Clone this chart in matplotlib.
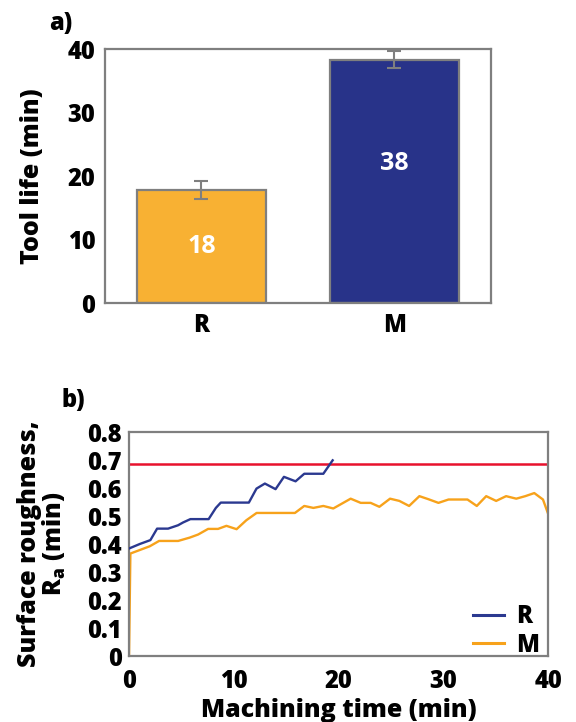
import matplotlib
matplotlib.use("Agg")
import matplotlib.pyplot as plt

plt.rcParams['font.family'] = ['Open Sans', 'DejaVu Sans']
plt.rcParams['font.weight'] = 'heavy'
W = 'heavy'

# Panel a data
tool_categories = ["R", "M"]
tool_life = [17.8, 38.3]
tool_err = [1.4, 1.35]
bar_colors = ["#F8B133", "#283389"]
bar_labels = ["18", "38"]

# Panel b data
r_time = [0, 1.02, 2.04, 2.68, 3.73, 4.68, 5.16, 5.86, 7.6, 8.29, 8.76, 11.44,
          12.17, 12.97, 13.99, 14.79, 15.9, 16.73, 18.55, 19.44]
r_ra = [0.384, 0.400, 0.414, 0.455, 0.455, 0.467, 0.477, 0.489, 0.489, 0.529,
        0.548, 0.548, 0.598, 0.616, 0.596, 0.640, 0.624, 0.651, 0.651, 0.699]
m_time = [0, 0.13, 1.98, 2.87, 4.69, 5.8, 6.6, 7.55, 8.5, 9.3, 10.27, 11.2,
          12.18, 15.84, 16.73, 17.6, 18.55, 19.5, 21.16, 22.12, 23.07, 23.9,
          24.92, 25.81, 26.74, 27.72, 28.59, 29.54, 30.5, 32.31, 33.2, 34.1,
          35.05, 36.0, 36.97, 37.83, 38.69, 39.52, 40.0]
m_ra = [0.0, 0.366, 0.392, 0.411, 0.411, 0.423, 0.434, 0.454, 0.454, 0.465,
        0.453, 0.485, 0.511, 0.511, 0.536, 0.529, 0.536, 0.527, 0.562, 0.547,
        0.547, 0.533, 0.562, 0.554, 0.536, 0.571, 0.560, 0.547, 0.559, 0.559,
        0.536, 0.571, 0.554, 0.571, 0.562, 0.571, 0.582, 0.559, 0.509]
ra_limit = 0.685

GRAY = "#7f7f7f"

fig = plt.figure(figsize=(5.76, 7.22), dpi=100)

# ---- panel a ----
ax1 = fig.add_axes([0.1823, 0.5803, 0.670, 0.3518])
x = range(len(tool_categories))
ax1.bar(x, tool_life, width=0.667, color=bar_colors, edgecolor=GRAY,
        linewidth=1.6, zorder=2)
ax1.errorbar(x, tool_life, yerr=tool_err, fmt='none', ecolor=GRAY,
             elinewidth=1.5, capsize=5, capthick=1.5, zorder=3)
label_pos = [tool_life[0] * 0.5, tool_life[1] * 0.575]
for xi, yi, lab in zip(x, label_pos, bar_labels):
    ax1.text(xi, yi, lab, color="white", ha="center", va="center",
             fontsize=18, fontweight="bold")
ax1.set_xlim(-0.5, 1.5)
ax1.set_ylim(0, 40)
ax1.set_yticks([0, 10, 20, 30, 40])
ax1.set_xticks(list(x))
ax1.set_xticklabels(tool_categories)
ax1.set_ylabel("Tool life (min)", fontsize=18, fontweight=W, labelpad=16)
ax1.tick_params(length=0, labelsize=17, pad=7)
for s in ax1.spines.values():
    s.set_color(GRAY)
    s.set_linewidth(1.6)
fig.text(0.085, 0.968, "a)", fontsize=17, fontweight=W, ha="left", va="center")

# ---- panel b ----
ax2 = fig.add_axes([0.224, 0.0914, 0.7274, 0.3102])
ax2.axhline(ra_limit, color="#E8112D", linewidth=1.8, zorder=1)
ax2.plot(r_time, r_ra, color="#2B3990", linewidth=1.7, label="R", zorder=3)
ax2.plot(m_time, m_ra, color="#F7A21B", linewidth=1.7, label="M", zorder=2)
ax2.set_xlim(0, 40)
ax2.set_ylim(0, 0.8)
ax2.set_xticks([0, 10, 20, 30, 40])
ax2.set_yticks([0, 0.1, 0.2, 0.3, 0.4, 0.5, 0.6, 0.7, 0.8])
ax2.set_yticklabels(["0", "0.1", "0.2", "0.3", "0.4", "0.5", "0.6", "0.7", "0.8"])
ax2.tick_params(axis="y", length=0, labelsize=17, pad=5)
ax2.tick_params(axis="x", length=0, labelsize=17, pad=9)
ax2.set_xlabel("Machining time (min)", fontsize=18, fontweight=W, labelpad=3)
ax2.set_ylabel("Surface roughness,\nR$_\\mathregular{a}$ (min)", fontsize=18,
               fontweight=W, linespacing=0.95, labelpad=14)
for s in ax2.spines.values():
    s.set_color(GRAY)
    s.set_linewidth(1.6)
leg = ax2.legend(loc="lower right", bbox_to_anchor=(1.0, -0.05), frameon=False,
                 fontsize=17, handlelength=1.3, handletextpad=0.5,
                 borderaxespad=0.0, labelspacing=0.15)
for h in leg.get_lines():
    h.set_linewidth(2.2)
fig.text(0.107, 0.445, "b)", fontsize=17, fontweight=W, ha="left", va="center")

fig.savefig("out.png", dpi=100)
